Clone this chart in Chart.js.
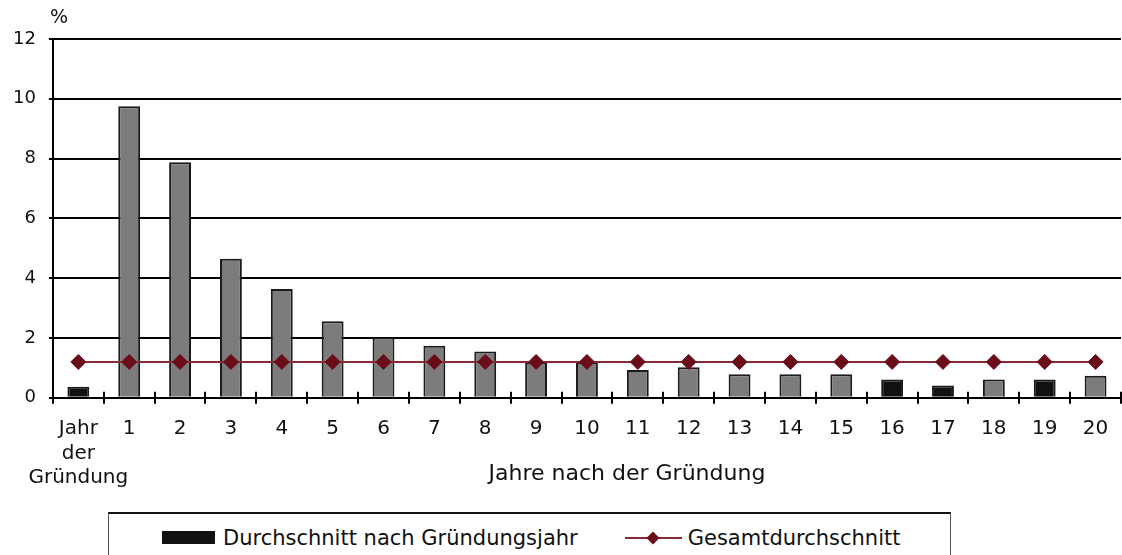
<!DOCTYPE html>
<html>
<head>
<meta charset="utf-8">
<script src="https://cdn.jsdelivr.net/npm/chart.js@4"></script>
<style>
    body { margin: 0; background: #fff; font-family: 'DejaVu Sans', sans-serif; }
    #wrap { position: relative; width: 1122px; height: 555px; overflow: hidden; }
    #chartBox { position: absolute; left: 0; top: 0; width: 1122px; height: 505px; }
    #legend {
        position: absolute; left: 108px; top: 512px; width: 843px; height: 60px;
        border: 1px solid #555; border-top: 2px solid #111; box-sizing: border-box;
        display: flex; align-items: center; padding: 0 0 10px 53px;
        font-size: 21px; color: #111; line-height: 26px;
    }
    .item { display: flex; align-items: center; }
    .swatch { width: 53px; height: 13px; background: #111; margin-right: 8px; }
</style>
</head>
<body>
<div id="wrap">
    <div id="chartBox"><canvas id="myChart"></canvas></div>
    <div id="legend"></div>
</div>
<script>
// categories on the x axis
const categories = [['Jahr', 'der', 'Gründung'], '1', '2', '3', '4', '5', '6', '7', '8', '9', '10',
    '11', '12', '13', '14', '15', '16', '17', '18', '19', '20'];

// series values (%)
const averageByYear = [0.37, 9.75, 7.88, 4.65, 3.64, 2.56, 2.02, 1.74, 1.55, 1.18, 1.18,
    0.93, 1.02, 0.79, 0.79, 0.79, 0.61, 0.41, 0.61, 0.61, 0.74];
const overallAverage = [1.2, 1.2, 1.2, 1.2, 1.2, 1.2, 1.2, 1.2, 1.2, 1.2, 1.2,
    1.2, 1.2, 1.2, 1.2, 1.2, 1.2, 1.2, 1.2, 1.2, 1.2];

// y tick labels
const yTicks = [0, 2, 4, 6, 8, 10, 12];

const seriesNames = ['Durchschnitt nach Gründungsjahr', 'Gesamtdurchschnitt'];
const xTitle = 'Jahre nach der Gründung';

// the scan shows some bars solid black, the rest grey
const darkBars = ['Jahr der Gründung', '16', '17', '19'];
const barColors = categories.map(c => darkBars.includes([].concat(c).join(' ')) ? '#111111' : '#7c7c7c');

const family = "'DejaVu Sans', sans-serif";

// crosses on the x axis between categories, the x axis title and the "%" above the y axis
const axisExtras = {
    id: 'axisExtras',
    afterDraw(chart) {
        const ctx = chart.ctx;
        const x = chart.scales.x;
        const area = chart.chartArea;
        const y0 = chart.scales.y.getPixelForValue(0);
        const step = x.width / categories.length;
        ctx.save();
        ctx.strokeStyle = '#000';
        ctx.lineWidth = 2;
        for (let i = 0; i <= categories.length; i++) {
            const px = Math.round(x.left + i * step);
            ctx.beginPath();
            ctx.moveTo(px, y0 - 6);
            ctx.lineTo(px, y0 + 6);
            ctx.stroke();
        }
        ctx.fillStyle = '#111';
        ctx.textBaseline = 'middle';
        ctx.textAlign = 'left';
        ctx.font = '19px ' + family;
        ctx.fillText('%', area.left - 3, area.top - 21);
        ctx.textAlign = 'center';
        ctx.font = '22px ' + family;
        ctx.fillText(xTitle, (area.left + area.right) / 2 + 40, y0 + 76);
        ctx.restore();
    }
};

const data = {
    labels: categories,
    datasets: [{
        type: 'line',
        label: seriesNames[1],
        data: overallAverage,
        borderColor: '#8a2a35',
        borderWidth: 2,
        pointStyle: 'rectRot',
        pointRadius: 7.5,
        pointBackgroundColor: '#6b0c1a',
        pointBorderColor: '#6b0c1a',
        pointBorderWidth: 1,
        order: 0
    }, {
        type: 'bar',
        label: seriesNames[0],
        data: averageByYear,
        backgroundColor: barColors,
        borderColor: '#1a1a1a',
        borderWidth: 2,
        barPercentage: 0.43,
        categoryPercentage: 1,
        order: 1
    }]
};

const config = {
    data: data,
    options: {
        responsive: true,
        maintainAspectRatio: false,
        animation: false,
        layout: { autoPadding: false, padding: { top: 39, right: 1, left: 0, bottom: 11 } },
        scales: {
            x: {
                grid: {
                    display: true,
                    drawOnChartArea: false,
                    drawTicks: true,
                    tickLength: 15,
                    tickColor: 'rgba(0,0,0,0)'
                },
                border: { color: '#000', width: 2 },
                ticks: {
                    color: '#111',
                    font: { family: family, size: 20, lineHeight: 1.22 },
                    padding: 4,
                    maxRotation: 0,
                    autoSkip: false
                }
            },
            y: {
                min: 0,
                max: 12,
                afterBuildTicks: (axis) => { axis.ticks = yTicks.map(v => ({ value: v })); },
                grid: { color: '#000', lineWidth: 2, tickLength: 4 },
                border: { color: '#000', width: 2 },
                ticks: { color: '#111', font: { family: family, size: 18 }, padding: 13 }
            }
        },
        plugins: {
            legend: { display: false },
            tooltip: { enabled: false }
        }
    },
    plugins: [axisExtras]
};

const myChart = new Chart(document.getElementById('myChart'), config);

// legend below the chart, built from the dataset names
const legend = document.getElementById('legend');
legend.innerHTML =
    '<span class="item"><span class="swatch"></span>' + seriesNames[0] + '</span>' +
    '<span class="item" style="margin-left:47px">' +
    '<svg width="57" height="16"><line x1="0" y1="8" x2="57" y2="8" stroke="#8a2a35" stroke-width="2"/>' +
    '<polygon points="28,1.5 34.5,8 28,14.5 21.5,8" fill="#6b0c1a"/></svg>' +
    '<span style="margin-left:6px">' + seriesNames[1] + '</span></span>';
</script>
</body>
</html>
